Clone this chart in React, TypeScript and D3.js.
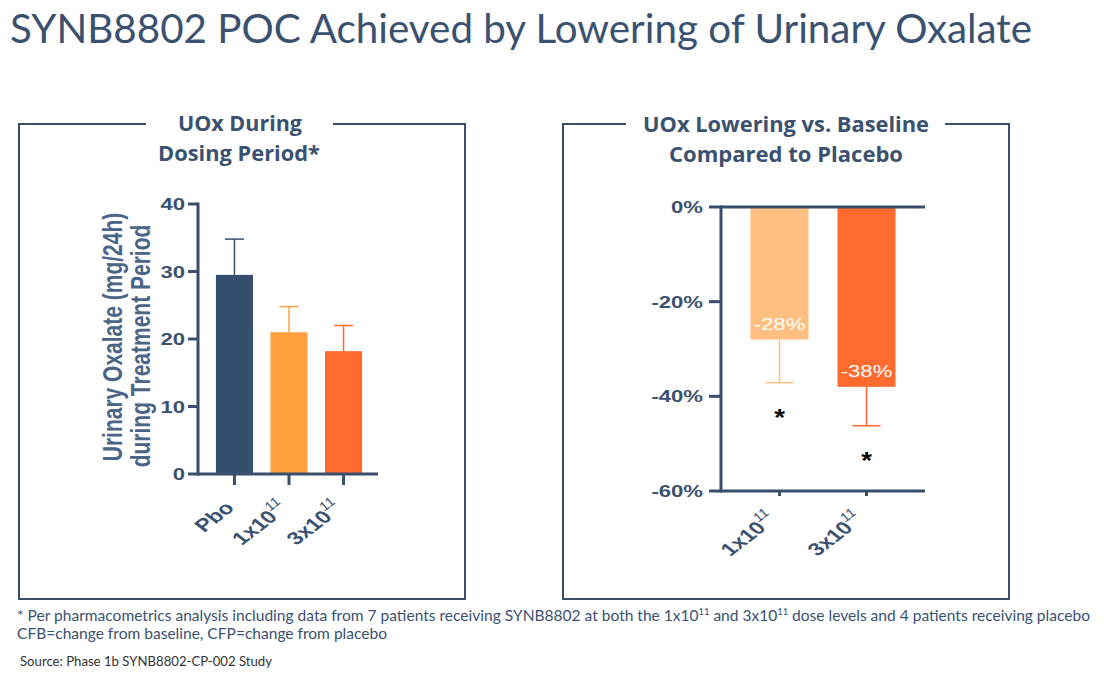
import React from "react";
import * as d3 from "d3";

// ---- data ----
const leftCats = ["Pbo", "1x10", "3x10"];
const leftValues = [29.5, 21.0, 18.2];
const leftErrTops = [34.8, 24.8, 22.0];
const leftTicks = [0, 10, 20, 30, 40];

const rightCats = ["1x10", "3x10"];
const rightValues = [-28, -38];
const rightErrEnds = [-37.1, -46.2];
const rightLabels = ["-28%", "-38%"];
const rightTicks = [0, -20, -40, -60];

const TITLE = "SYNB8802 POC Achieved by Lowering of Urinary Oxalate";

const NAVY = "#3b5170";
const AX = "#3a4e6c";
const leftColors = ["#364f6f", "#ffa040", "#ff6b2e"];
const rightColors = ["#ffbf80", "#ff6b2e"];

const SX = 1.3;
const CF = "'Liberation Sans', Arial, sans-serif";
const TF = "Lato, 'Open Sans', sans-serif";

function tf(x: number, y: number, sx = 1, rot = 0) {
  return `translate(${x},${y}) scale(${sx},1) rotate(${rot})`;
}

function XLabel({ x, y, label }: { x: number; y: number; label: string }) {
  const hasSup = label !== "Pbo";
  return (
    <text
      transform={tf(x, y, SX, -45)}
      textAnchor="end"
      fontFamily={CF}
      fontWeight="bold"
      fontSize={18}
      fill={NAVY}
    >
      {label}
      {hasSup && (
        <tspan fontSize={12} fontWeight="normal" fontStyle="italic" dy={-9}>
          {"11"}
        </tspan>
      )}
    </text>
  );
}

export default function App() {
  // left chart scales
  const yL = d3.scaleLinear().domain([0, 40]).range([474, 204]);
  const xL = d3
    .scaleBand<string>()
    .domain(leftCats)
    .range([199, 379])
    .paddingInner(0.32)
    .paddingOuter(0.31);

  // right chart scales
  const yR = d3.scaleLinear().domain([-60, 0]).range([491, 207]);
  const xR = d3
    .scaleBand<string>()
    .domain(rightCats)
    .range([721, 925])
    .paddingInner(0.333)
    .paddingOuter(0.339);

  const lx0 = 198;
  const lx1 = 378;
  const rx0 = 721;
  const rx1 = 925;
  const lTick = 11;
  const rTick = 5;

  return (
    <div style={{ position: "absolute", left: 0, top: 0 }}>
      <svg width={1104} height={675} style={{ display: "block", background: "#fff" }}>
        {/* main title */}
        <text
          x={10}
          y={43}
          fontFamily={TF}
          fontSize={41}
          fill={NAVY}
          textLength={1022}
          lengthAdjust="spacingAndGlyphs"
        >
          {TITLE}
        </text>

        {/* panel boxes */}
        <g fill="none" stroke={AX} strokeWidth={2}>
          <path d="M146,124 H19 V599 H465 V124 H333" />
          <path d="M626,124 H563 V599 H1009 V124 H945" />
        </g>
        <g fontFamily="'Open Sans', sans-serif" fontWeight="bold" fontSize={21} fill={NAVY} textAnchor="middle">
          <text x={240} y={131} textLength={124} lengthAdjust="spacingAndGlyphs">UOx During</text>
          <text x={239} y={161} textLength={162} lengthAdjust="spacingAndGlyphs">Dosing Period*</text>
          <text x={786} y={132} textLength={286} lengthAdjust="spacingAndGlyphs">UOx Lowering vs. Baseline</text>
          <text x={786} y={162} textLength={234} lengthAdjust="spacingAndGlyphs">Compared to Placebo</text>
        </g>

        {/* ===== left chart ===== */}
        {leftCats.map((c, i) => {
          const x = xL(c)!;
          const w = xL.bandwidth();
          const cx = x + w / 2;
          return (
            <g key={c}>
              <line x1={cx} x2={cx} y1={yL(leftValues[i])} y2={yL(leftErrTops[i])} stroke={leftColors[i]} strokeWidth={1.5} />
              <line x1={cx - 9.5} x2={cx + 9.5} y1={yL(leftErrTops[i])} y2={yL(leftErrTops[i])} stroke={leftColors[i]} strokeWidth={1.5} />
              <rect x={x} y={yL(leftValues[i])} width={w} height={yL(0) - yL(leftValues[i])} fill={leftColors[i]} />
              <line x1={cx} x2={cx} y1={yL(0)} y2={yL(0) + lTick} stroke={AX} strokeWidth={3} />
              <XLabel x={cx + 1} y={yL(0) + lTick + 24} label={c} />
            </g>
          );
        })}
        <g stroke={AX} strokeWidth={3} fill="none">
          <line x1={lx0} x2={lx0} y1={yL(40) - 1.5} y2={yL(0) + 1.5} />
          <line x1={lx0} x2={lx1} y1={yL(0)} y2={yL(0)} />
          {leftTicks.map((t) => (
            <line key={t} x1={lx0 - 10} x2={lx0} y1={yL(t)} y2={yL(t)} />
          ))}
        </g>
        {leftTicks.map((t) => (
          <text
            key={t}
            transform={tf(185, yL(t) + 6, SX)}
            textAnchor="end"
            fontFamily={CF}
            fontWeight="bold"
            fontSize={17}
            fill={NAVY}
          >
            {t}
          </text>
        ))}
        <g fontFamily={CF} fontWeight="bold" fontSize={21} fill="#4a6587" textAnchor="middle">
          <text transform={tf(122, 337, 1.3, -90)}>Urinary Oxalate (mg/24h)</text>
          <text transform={tf(150, 346, 1.3, -90)}>during Treatment Period</text>
        </g>

        {/* ===== right chart ===== */}
        {rightCats.map((c, i) => {
          const x = xR(c)!;
          const w = xR.bandwidth();
          const cx = x + w / 2;
          return (
            <g key={c}>
              <line x1={cx} x2={cx} y1={yR(rightValues[i])} y2={yR(rightErrEnds[i])} stroke={rightColors[i]} strokeWidth={1.5} />
              <line x1={cx - 14} x2={cx + 14} y1={yR(rightErrEnds[i])} y2={yR(rightErrEnds[i])} stroke={rightColors[i]} strokeWidth={1.5} />
              <rect x={x} y={yR(0)} width={w} height={yR(rightValues[i]) - yR(0)} fill={rightColors[i]} />
              <text
                transform={tf(cx, yR(rightValues[i]) - 10, SX)}
                textAnchor="middle"
                fontFamily={CF}
                fontSize={17}
                fill="#ffffff"
              >
                {rightLabels[i]}
              </text>
              <text
                transform={tf(cx, yR(rightErrEnds[i]) + 43, 1.15)}
                textAnchor="middle"
                fontFamily={CF}
                fontWeight="bold"
                fontSize={24}
                fill="#000"
              >
                *
              </text>
              <line x1={cx} x2={cx} y1={yR(-60)} y2={yR(-60) + rTick} stroke={AX} strokeWidth={3} />
              <XLabel x={cx - 1} y={yR(-60) + rTick + 24} label={c} />
            </g>
          );
        })}
        <g stroke={AX} strokeWidth={3} fill="none">
          <line x1={rx0} x2={rx0} y1={yR(0) - 1.5} y2={yR(-60) + 1.5} />
          <line x1={rx0} x2={rx1} y1={yR(0)} y2={yR(0)} />
          <line x1={rx0} x2={rx1} y1={yR(-60)} y2={yR(-60)} />
          {rightTicks.map((t) => (
            <line key={t} x1={rx0 - 12} x2={rx0} y1={yR(t)} y2={yR(t)} />
          ))}
        </g>
        {rightTicks.map((t) => (
          <text
            key={t}
            transform={tf(703, yR(t) + 6, SX)}
            textAnchor="end"
            fontFamily={CF}
            fontWeight="bold"
            fontSize={17}
            fill={NAVY}
          >
            {`${t}%`}
          </text>
        ))}

        {/* footnotes */}
        <text x={17} y={621} fontFamily={TF} fontSize={15} fill={NAVY} textLength={1073} lengthAdjust="spacingAndGlyphs">
          {"* Per pharmacometrics analysis including data from 7 patients receiving SYNB8802 at both the 1x10"}
          <tspan fontSize={9} dy={-6}>11</tspan>
          <tspan dy={6}>{" and 3x10"}</tspan>
          <tspan fontSize={9} dy={-6}>11</tspan>
          <tspan dy={6}>{" dose levels and 4 patients receiving placebo"}</tspan>
        </text>
        <text x={17} y={639} fontFamily={TF} fontSize={15} fill={NAVY} textLength={370} lengthAdjust="spacingAndGlyphs">
          CFB=change from baseline, CFP=change from placebo
        </text>
        <text x={20} y={666} fontFamily={TF} fontSize={12.5} fill="#333" textLength={252} lengthAdjust="spacingAndGlyphs">
          Source: Phase 1b SYNB8802-CP-002 Study
        </text>
      </svg>
    </div>
  );
}
